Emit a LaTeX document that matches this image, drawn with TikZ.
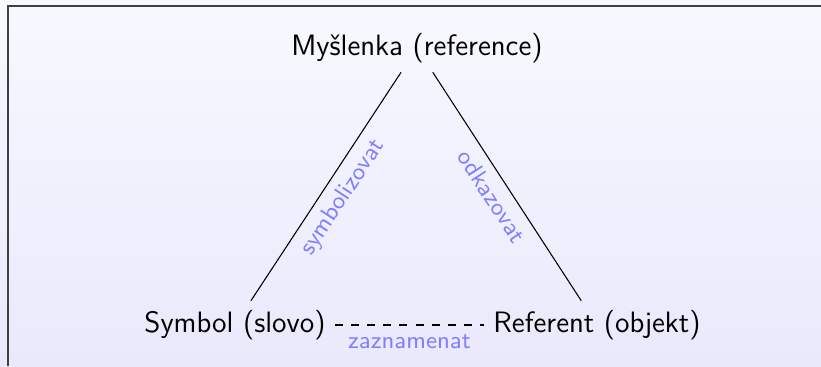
\documentclass[tikz,border=0pt]{standalone}
\usepackage{fontspec}
\usepackage{tikz}
\renewcommand{\familydefault}{\sfdefault}
\definecolor{bgtop}{RGB}{248,248,255}
\definecolor{bgbot}{RGB}{233,233,252}
\definecolor{lblcol}{RGB}{128,128,255}
\begin{document}
\begin{tikzpicture}[x=0.3727pt, y=-0.3727pt,
    font=\fontsize{11}{13}\selectfont,
    lbl/.style={text=lblcol, font=\small, sloped}]
  \useasboundingbox (0,0) rectangle (821,366);
  \shade[top color=bgtop, bottom color=bgbot] (0,0) rectangle (821,366);
  \draw[gray!50!black, line width=0.8pt] (8,366) -- (8,6) -- (821,6);

  \node (M) at (417,48) {Myšlenka (reference)};
  \node (S) at (235,325) {Symbol (slovo)};
  \node (R) at (597,325) {Referent (objekt)};

  \draw (M) to node[lbl, below] {symbolizovat} (S);
  \draw (M) to node[lbl, below] {odkazovat} (R);
  \draw[dashed] (S) to node[lbl, below, sloped=false] {zaznamenat} (R);
\end{tikzpicture}
\end{document}
